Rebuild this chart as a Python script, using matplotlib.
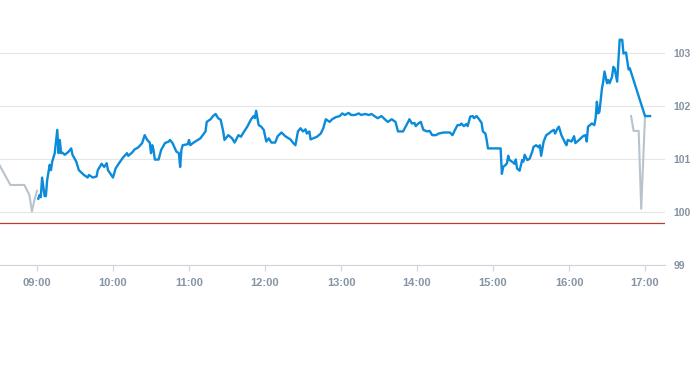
import matplotlib
matplotlib.use("Agg")
import matplotlib.pyplot as plt

plt.rcParams["font.family"] = ["Liberation Sans", "DejaVu Sans"]

# ---- data ----
pre_times = ["08:30", "08:39", "08:50", "08:54", "08:56", "08:58", "09:00"]
pre_values = [100.90, 100.51, 100.51, 100.32, 100.01, 100.23, 100.40]

post_times = ["16:49", "16:51", "16:55", "16:57", "17:00"]
post_values = [101.81, 101.53, 101.53, 100.06, 101.81]

main_times = [
    "09:01", "09:02", "09:03", "09:04", "09:05", "09:06", "09:07", "09:08", "09:10", "09:11",
    "09:12", "09:14", "09:16", "09:17", "09:18", "09:19", "09:20", "09:22", "09:25", "09:27",
    "09:28", "09:31", "09:33", "09:37", "09:40", "09:41", "09:44", "09:47", "09:48", "09:51",
    "09:53", "09:55", "09:56", "10:00", "10:02", "10:05", "10:08", "10:11", "10:12", "10:15",
    "10:17", "10:20", "10:23", "10:25", "10:27", "10:29", "10:30", "10:31", "10:32", "10:33",
    "10:36", "10:38", "10:41", "10:44", "10:45", "10:47", "10:50", "10:52", "10:53", "10:54",
    "10:55", "10:59", "11:00", "11:01", "11:03", "11:05", "11:09", "11:13", "11:14", "11:17",
    "11:19", "11:21", "11:23", "11:25", "11:27", "11:28", "11:31", "11:34", "11:36", "11:39",
    "11:41", "11:43", "11:46", "11:49", "11:51", "11:52", "11:53", "11:55", "11:57", "11:59",
    "12:01", "12:03", "12:05", "12:08", "12:10", "12:13", "12:16", "12:20", "12:22", "12:24",
    "12:26", "12:28", "12:30", "12:32", "12:33", "12:35", "12:36", "12:38", "12:41", "12:44",
    "12:46", "12:48", "12:51", "12:53", "12:56", "12:59", "13:01", "13:03", "13:06", "13:08",
    "13:11", "13:14", "13:16", "13:19", "13:22", "13:24", "13:27", "13:29", "13:32", "13:35",
    "13:37", "13:40", "13:43", "13:45", "13:49", "13:51", "13:53", "13:54", "13:56", "13:58",
    "13:59", "14:01", "14:03", "14:05", "14:08", "14:10", "14:12", "14:15", "14:17", "14:21",
    "14:26", "14:28", "14:30", "14:32", "14:34", "14:35", "14:37", "14:39", "14:40", "14:42",
    "14:44", "14:45", "14:47", "14:49", "14:51", "14:52", "14:54", "14:55", "14:56", "15:06",
    "15:07", "15:08", "15:10", "15:11", "15:12", "15:13", "15:15", "15:17", "15:18", "15:19",
    "15:21", "15:23", "15:24", "15:25", "15:27", "15:28", "15:29", "15:31", "15:32", "15:34",
    "15:36", "15:37", "15:38", "15:40", "15:42", "15:44", "15:46", "15:48", "15:49", "15:51",
    "15:52", "15:54", "15:57", "15:58", "15:59", "16:02", "16:04", "16:05", "16:08", "16:11",
    "16:13", "16:14", "16:15", "16:18", "16:20", "16:21", "16:22", "16:23", "16:24", "16:26",
    "16:27", "16:28", "16:30", "16:31", "16:32", "16:34", "16:35", "16:36", "16:38", "16:39",
    "16:40", "16:42", "16:43", "16:45", "16:47", "16:48", "17:00", "17:04",
]
main_values = [
    100.25, 100.32, 100.28, 100.65, 100.48, 100.30, 100.30, 100.60, 100.89, 100.79,
    100.95, 101.11, 101.55, 101.11, 101.36, 101.11, 101.12, 101.08, 101.14, 101.20,
    101.08, 100.95, 100.79, 100.70, 100.65, 100.70, 100.65, 100.67, 100.79, 100.91,
    100.85, 100.92, 100.79, 100.65, 100.82, 100.93, 101.03, 101.11, 101.06, 101.12,
    101.18, 101.22, 101.30, 101.45, 101.36, 101.31, 101.11, 101.26, 101.17, 100.99,
    100.99, 101.17, 101.30, 101.33, 101.36, 101.30, 101.14, 101.11, 100.85, 101.17,
    101.26, 101.28, 101.36, 101.26, 101.30, 101.33, 101.39, 101.52, 101.70, 101.75,
    101.81, 101.85, 101.77, 101.74, 101.52, 101.36, 101.45, 101.39, 101.31, 101.45,
    101.42, 101.50, 101.61, 101.75, 101.81, 101.77, 101.91, 101.64, 101.61, 101.55,
    101.33, 101.39, 101.31, 101.31, 101.43, 101.50, 101.43, 101.37, 101.31, 101.26,
    101.52, 101.58, 101.52, 101.56, 101.48, 101.52, 101.37, 101.39, 101.42, 101.48,
    101.58, 101.75, 101.70, 101.75, 101.79, 101.81, 101.86, 101.83, 101.87, 101.83,
    101.83, 101.86, 101.83, 101.85, 101.83, 101.85, 101.80, 101.77, 101.81, 101.74,
    101.70, 101.75, 101.70, 101.52, 101.52, 101.61, 101.70, 101.75, 101.67, 101.68,
    101.62, 101.67, 101.70, 101.55, 101.52, 101.53, 101.45, 101.45, 101.48, 101.50,
    101.50, 101.45, 101.55, 101.64, 101.64, 101.67, 101.62, 101.66, 101.62, 101.80,
    101.81, 101.77, 101.81, 101.75, 101.68, 101.52, 101.48, 101.36, 101.20, 101.20,
    100.72, 100.85, 100.89, 100.92, 101.06, 100.98, 100.95, 100.91, 100.99, 100.82,
    100.78, 100.98, 100.95, 101.08, 100.98, 100.99, 101.01, 101.14, 101.23, 101.26,
    101.22, 101.26, 101.06, 101.33, 101.45, 101.48, 101.52, 101.55, 101.48, 101.58,
    101.61, 101.45, 101.30, 101.26, 101.36, 101.33, 101.43, 101.30, 101.36, 101.43,
    101.45, 101.33, 101.61, 101.67, 101.64, 101.77, 102.08, 101.86, 101.89, 102.33,
    102.46, 102.65, 102.43, 102.49, 102.43, 102.55, 102.74, 102.71, 102.46, 102.87,
    103.25, 103.25, 102.99, 103.01, 102.69, 102.71, 101.81, 101.81,
]

reference_level = 99.79
x_tick_labels = ["09:00", "10:00", "11:00", "12:00", "13:00", "14:00", "15:00", "16:00", "17:00"]
y_ticks = [99, 100, 101, 102, 103]


def to_hours(s):
    h, m = s.split(":")
    return int(h) + int(m) / 60.0


fig = plt.figure(figsize=(6.93, 3.65), dpi=100)
ax = fig.add_axes([0.0, 100 / 365, 665 / 693, 265 / 365])

label_color = "#8593a3"
grid_color = "#e6e6e6"
axis_color = "#ccd6e0"

ax.plot([to_hours(t) for t in pre_times], pre_values, color="#b9c3cc", lw=1.5, zorder=3,
        solid_joinstyle="round")
ax.plot([to_hours(t) for t in post_times], post_values, color="#b9c3cc", lw=1.5, zorder=3,
        solid_joinstyle="round")
ax.plot([to_hours(t) for t in main_times], main_values, color="#0b8bda", lw=1.7, zorder=4,
        solid_joinstyle="round")
ax.axhline(reference_level, color="#c0392b", lw=0.9, zorder=2)

ax.set_xlim(8.513, 17.263)
ax.set_ylim(99, 104)

ax.set_yticks(y_ticks)
ax.set_yticklabels([str(v) for v in y_ticks])
ax.yaxis.tick_right()
ax.tick_params(axis="y", length=0, pad=6, labelsize=7.5, labelcolor=label_color)
for lab in ax.get_yticklabels():
    lab.set_fontweight("bold")
    lab.set_horizontalalignment("left")

ax.set_xticks([to_hours(t) for t in x_tick_labels])
ax.set_xticklabels(x_tick_labels)
ax.tick_params(axis="x", length=4, width=0.8, color=axis_color, pad=5, labelsize=8,
               labelcolor=label_color)
for lab in ax.get_xticklabels():
    lab.set_fontweight("bold")

ax.grid(axis="y", color=grid_color, lw=0.8, zorder=0)
ax.grid(axis="x", visible=False)
for side in ["top", "left", "right"]:
    ax.spines[side].set_visible(False)
ax.spines["bottom"].set_color(axis_color)
ax.spines["bottom"].set_linewidth(0.8)

fig.savefig("out.png", dpi=100)
